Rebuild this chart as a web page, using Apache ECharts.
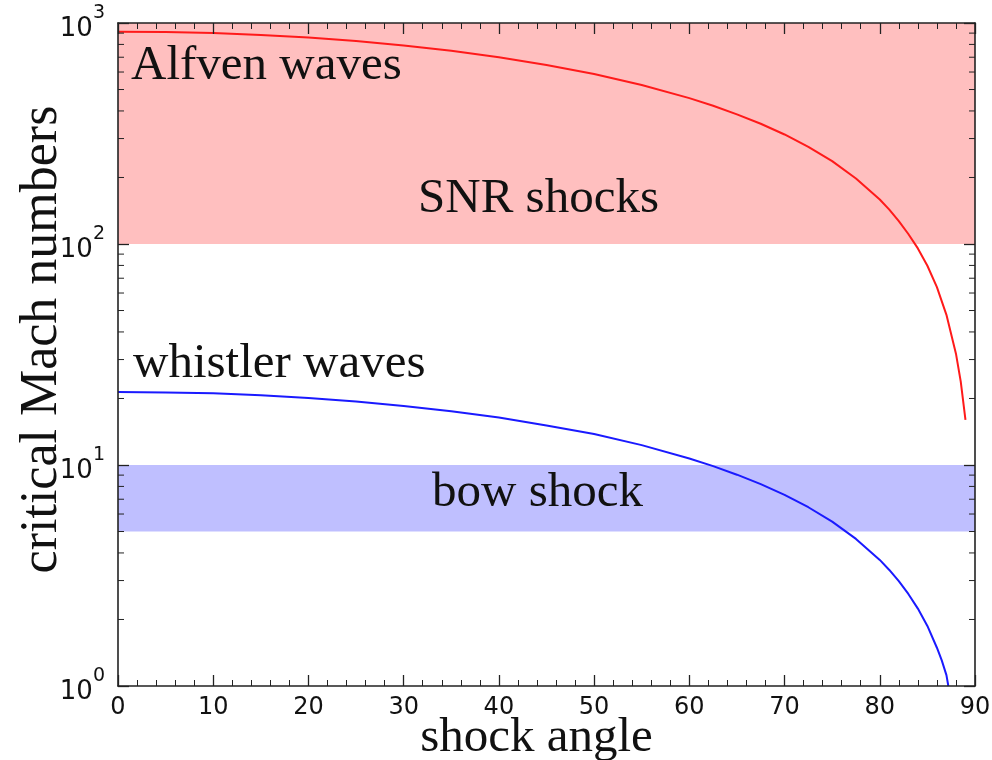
<!DOCTYPE html>
<html>
<head>
<meta charset="utf-8">
<script src="https://cdn.jsdelivr.net/npm/echarts@6/dist/echarts.min.js"></script>
<style>
html,body{margin:0;padding:0;background:#fff;}
#chart{width:992px;height:760px;}
</style>
</head>
<body>
<div id="chart"></div>
<script>
// Shock angle (degrees) and critical Mach numbers
const alfvenAngles = [0, 5, 10, 15, 20, 25, 30, 35, 40, 45, 50, 55, 60, 62.5, 65, 67.5, 70, 72.5, 75, 77.5, 80, 81, 82, 83, 84, 85, 86, 87, 88, 88.5, 89];
const alfvenMach   = [914, 910, 900, 883, 859, 828, 792, 749, 700, 646, 588, 524, 457, 422, 386, 350, 313, 275, 237, 198, 159, 143, 127, 111, 95.5, 79.7, 63.8, 47.8, 31.9, 23.9, 16];
const whistlerAngles = [0, 5, 10, 15, 20, 25, 30, 35, 40, 45, 50, 55, 60, 62.5, 65, 67.5, 70, 72.5, 75, 77.5, 80, 81, 82, 83, 84, 85, 86, 86.5, 87, 87.2];
const whistlerMach   = [21.4, 21.3, 21.1, 20.7, 20.1, 19.4, 18.5, 17.5, 16.4, 15.1, 13.8, 12.3, 10.7, 9.88, 9.04, 8.19, 7.32, 6.44, 5.54, 4.63, 3.72, 3.35, 2.98, 2.61, 2.24, 1.87, 1.49, 1.31, 1.12, 1.0];
// Shaded ranges
const snrRange = [100, 1000];
const bowRange = [5, 10];
// Axis ticks
const xMin = 0, xMax = 90, xStep = 10;
const yMin = 1, yMax = 1000;
const yMinorTicks = [2,3,4,5,6,7,8,9,20,30,40,50,60,70,80,90,200,300,400,500,600,700,800,900];
// Texts
const texts = { alfven: 'Alfven waves', snr: 'SNR shocks', whistler: 'whistler waves', bow: 'bow shock', xTitle: 'shock angle', yTitle: 'critical Mach numbers' };

const chart = echarts.init(document.getElementById('chart'), null, {renderer: 'canvas'});
const serif = '"Liberation Serif", "DejaVu Serif", serif';
const sans = '"DejaVu Sans", sans-serif';
const axisColor = '#222';

function pairs(xs, ys) { return xs.map((x, i) => [x, ys[i]]); }

const xAxisCommon = {
  type: 'value', min: xMin, max: xMax, interval: xStep, z: 10,
  axisLine: {show: true, onZero: false, lineStyle: {color: axisColor, width: 1.6}},
  axisTick: {show: true, inside: true, length: 11, lineStyle: {color: axisColor, width: 1.3}},
  minorTick: {show: true, splitNumber: 5, length: 6, lineStyle: {color: axisColor, width: 1}},
  splitLine: {show: false}
};
const yAxisCommon = {
  type: 'log', logBase: 10, min: yMin, max: yMax, z: 10,
  axisLine: {show: true, onZero: false, lineStyle: {color: axisColor, width: 1.6}},
  axisTick: {show: true, inside: true, length: 11, lineStyle: {color: axisColor, width: 1.3}},
  minorTick: {show: false},
  splitLine: {show: false}
};

const option = {
  backgroundColor: '#fff',
  animation: false,
  grid: {left: 118, right: 17, top: 23, bottom: 74, containLabel: false, outerBoundsMode: 'none'},
  xAxis: [
    Object.assign({}, xAxisCommon, {
      position: 'bottom',
      axisLabel: {show: true, margin: 10, color: '#111', fontSize: 24, fontFamily: sans},
      name: texts.xTitle, nameLocation: 'middle', nameGap: 28, nameMoveOverlap: false,
      nameTextStyle: {fontFamily: serif, fontSize: 49, color: '#111', verticalAlign: 'top', padding: [0, 20, 0, 0]}
    }),
    Object.assign({}, xAxisCommon, {position: 'top', axisLabel: {show: false}})
  ],
  yAxis: [
    Object.assign({}, yAxisCommon, {
      position: 'left',
      axisLabel: {
        show: true, margin: 13,
        formatter: function (v) { return '{b|10}{s|' + Math.round(Math.log10(v)) + '}'; },
        rich: {
          b: {fontSize: 26, fontFamily: sans, color: '#111', lineHeight: 38, verticalAlign: 'bottom'},
          s: {fontSize: 19, fontFamily: sans, color: '#111', lineHeight: 38, verticalAlign: 'top'}
        }
      },
      name: texts.yTitle, nameLocation: 'middle', nameGap: 50, nameRotate: 90, nameMoveOverlap: false,
      nameTextStyle: {fontFamily: serif, fontSize: 52, color: '#111', padding: [0, 0, 0, 30]}
    }),
    Object.assign({}, yAxisCommon, {position: 'right', axisLabel: {show: false}})
  ],
  series: [
    {
      type: 'line', name: 'Alfven', xAxisIndex: 0, yAxisIndex: 0,
      data: pairs(alfvenAngles, alfvenMach),
      showSymbol: false, smooth: false,
      lineStyle: {color: '#ff1a1a', width: 2},
      z: 3,
      markArea: {
        silent: true,
        itemStyle: {color: '#ffbfbf', opacity: 1},
        data: [[{yAxis: snrRange[0]}, {yAxis: snrRange[1]}]]
      }
    },
    {
      type: 'line', name: 'whistler', xAxisIndex: 0, yAxisIndex: 0,
      data: pairs(whistlerAngles, whistlerMach),
      showSymbol: false, smooth: false,
      lineStyle: {color: '#1a1aff', width: 2},
      z: 3,
      markArea: {
        silent: true,
        itemStyle: {color: '#bfbfff', opacity: 1},
        data: [[{yAxis: bowRange[0]}, {yAxis: bowRange[1]}]]
      }
    },
    {
      type: 'custom', name: 'yMinor', xAxisIndex: 0, yAxisIndex: 0, z: 8, silent: true,
      data: yMinorTicks.map(v => [xMin, v]),
      renderItem: function (params, api) {
        const y = api.coord([xMin, api.value(1)])[1];
        const cs = params.coordSys;
        const st = {stroke: axisColor, lineWidth: 1};
        return {
          type: 'group',
          children: [
            {type: 'line', shape: {x1: cs.x, y1: y, x2: cs.x + 6, y2: y}, style: st},
            {type: 'line', shape: {x1: cs.x + cs.width, y1: y, x2: cs.x + cs.width - 6, y2: y}, style: st}
          ]
        };
      }
    }
  ],
  graphic: [
    {type: 'text', left: 131, top: 42, z: 20, style: {text: texts.alfven, font: '49px ' + serif, fill: '#111'}},
    {type: 'text', left: 418, top: 175, z: 20, style: {text: texts.snr, font: '49px ' + serif, fill: '#111'}},
    {type: 'text', left: 133, top: 340, z: 20, style: {text: texts.whistler, font: '49px ' + serif, fill: '#111'}},
    {type: 'text', left: 432, top: 469, z: 20, style: {text: texts.bow, font: '49px ' + serif, fill: '#111'}}
  ]
};
chart.setOption(option);
</script>
</body>
</html>
